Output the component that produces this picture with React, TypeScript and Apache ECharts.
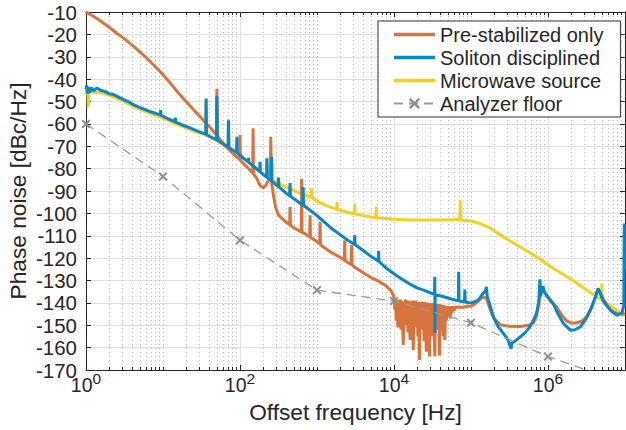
import React, { useEffect, useRef } from "react";
import * as echarts from "echarts";

// [log10(frequency / Hz), phase noise dBc/Hz]
const preStabilized: [number, number][] = [
  [0.0, -10], [0.1, -12], [0.2, -14.3], [0.3, -16.8], [0.4, -19.5], [0.5, -22], [0.6, -24.8],
  [0.7, -27.8], [0.8, -31], [0.9, -34.5], [1.0, -38], [1.1, -42], [1.2, -46.2], [1.3, -50],
  [1.4, -53.8], [1.5, -57.5], [1.6, -61.2], [1.695, -65], [1.7, -44.3], [1.705, -65.4],
  [1.8, -69.5], [1.85, -71.3], [1.853, -68.8], [1.857, -71.5], [1.9, -73], [1.995, -76],
  [2.0, -65], [2.005, -76.3], [2.1, -79.6], [2.165, -82], [2.17, -62], [2.175, -82.4],
  [2.22, -84.5], [2.26, -87.5], [2.3, -88.6], [2.34, -87.2], [2.38, -84.5], [2.395, -83.8],
  [2.4, -65.8], [2.405, -84.5], [2.43, -91], [2.46, -97], [2.5, -100.8], [2.55, -102.5],
  [2.6, -104], [2.645, -105], [2.65, -97], [2.655, -105.3], [2.7, -106.5], [2.795, -108.3],
  [2.8, -84.5], [2.805, -108.5], [2.85, -109.2], [2.905, -110.5], [2.91, -100.8], [2.915, -110.8],
  [2.95, -111.5], [3.035, -113.5], [3.04, -103.8], [3.045, -114], [3.1, -115.5], [3.2, -117.8],
  [3.3, -119.6], [3.355, -120.8], [3.36, -112], [3.365, -121], [3.4, -122], [3.445, -122.8],
  [3.45, -114], [3.455, -123], [3.5, -124.3], [3.6, -126.5], [3.7, -128.7], [3.8, -130.3],
  [3.9, -132.5], [3.96, -134.5], [3.99, -136.5],
  [4.0, -137.5], [4.01, -143], [4.02, -139], [4.03, -148], [4.04, -138.5], [4.05, -151],
  [4.06, -139], [4.07, -149], [4.08, -138.5], [4.09, -152], [4.1, -139], [4.11, -147],
  [4.12, -158.8], [4.13, -139.5], [4.14, -150], [4.15, -138.5], [4.16, -148], [4.17, -139],
  [4.18, -153], [4.19, -139], [4.2, -150], [4.21, -156.6], [4.22, -139.5], [4.23, -149],
  [4.24, -139], [4.25, -161], [4.26, -139.5], [4.27, -151], [4.28, -139], [4.29, -148],
  [4.3, -139.5], [4.31, -155], [4.32, -139.5], [4.33, -165.5], [4.34, -140], [4.35, -152],
  [4.36, -139.5], [4.37, -150], [4.38, -140], [4.39, -157], [4.4, -139.5], [4.41, -149],
  [4.42, -161.8], [4.43, -140], [4.44, -151], [4.45, -140], [4.46, -164], [4.47, -140.5],
  [4.48, -150], [4.49, -140], [4.5, -155], [4.51, -140.5], [4.52, -149], [4.53, -164],
  [4.54, -140.5], [4.55, -152], [4.56, -140.5], [4.57, -150], [4.58, -141], [4.59, -163.5],
  [4.6, -140.5], [4.61, -151], [4.62, -141], [4.63, -149], [4.64, -155], [4.65, -141],
  [4.66, -156.6], [4.67, -141.5], [4.68, -148], [4.69, -141.5], [4.7, -146], [4.71, -141.5],
  [4.73, -147], [4.74, -141.5], [4.75, -144.7], [4.76, -141.5], [4.78, -143.5], [4.8, -141.8],
  [4.85, -142], [4.9, -142], [4.95, -141.5], [5.0, -141.5],
  [5.05, -140.5], [5.1, -139], [5.16, -137.3], [5.2, -138], [5.25, -143], [5.3, -147],
  [5.38, -149.8], [5.5, -150.5], [5.64, -150.6], [5.75, -150], [5.81, -149], [5.85, -146],
  [5.88, -140], [5.92, -132.8], [5.95, -135], [6.0, -137.5], [6.05, -140], [6.11, -141.7],
  [6.18, -145.5], [6.24, -148], [6.3, -149], [6.37, -149], [6.45, -148], [6.5, -146.2],
  [6.56, -142.5], [6.62, -137], [6.65, -133.5], [6.68, -135.5], [6.72, -138.5], [6.81, -143.2],
  [6.9, -145], [7.0, -145],
];

const solitonDisciplined: [number, number][] = [
  [0.0, -44.5], [0.01, -42.8], [0.02, -46.5], [0.035, -43.5], [0.05, -46], [0.07, -43.8],
  [0.1, -45.2], [0.14, -44], [0.19, -45], [0.25, -45.6], [0.3, -46.5], [0.35, -46.8],
  [0.41, -47.8], [0.5, -49.4], [0.56, -50.2], [0.62, -51.5], [0.72, -53], [0.84, -54.6],
  [0.965, -56], [0.97, -53.8], [0.975, -56.2], [1.06, -57.6], [1.155, -59], [1.16, -57.2],
  [1.165, -59.2], [1.25, -60.5], [1.35, -61.8], [1.45, -63.2], [1.555, -64.6], [1.56, -48.7],
  [1.565, -64.8], [1.65, -66.3], [1.695, -67.1], [1.7, -47.5], [1.705, -67.3], [1.8, -69.3],
  [1.845, -70.3], [1.85, -58.4], [1.855, -70.5], [1.9, -71.6], [1.955, -72.8], [1.96, -66],
  [1.965, -73], [2.0, -74], [2.05, -75.5], [2.105, -77], [2.11, -75.2], [2.115, -77.2],
  [2.2, -79.6], [2.255, -81.3], [2.26, -77], [2.265, -81.5], [2.3, -82.6], [2.345, -83.8],
  [2.35, -75.5], [2.355, -84], [2.405, -85.4], [2.41, -74.8], [2.415, -85.6], [2.495, -88],
  [2.5, -84], [2.505, -88.2], [2.6, -91], [2.645, -92.2], [2.65, -86.5], [2.655, -92.4],
  [2.7, -93.5], [2.815, -96.3], [2.82, -88.2], [2.825, -96.5], [2.9, -98.3], [3.0, -101],
  [3.1, -104], [3.2, -107], [3.3, -109.5], [3.4, -112], [3.485, -113.8], [3.49, -109.7],
  [3.495, -114], [3.6, -116.6], [3.7, -119.2], [3.795, -121.3], [3.8, -116.8], [3.805, -121.5],
  [3.9, -124.5], [4.0, -127], [4.1, -129.3], [4.2, -131.5], [4.3, -133.3], [4.4, -134.5],
  [4.525, -136.2], [4.53, -128.3], [4.532, -153.5], [4.535, -136.4], [4.6, -136.8],
  [4.7, -137.8], [4.8, -138.8], [4.835, -139], [4.84, -126.1], [4.845, -139.2], [4.915, -139.6],
  [4.92, -134], [4.925, -139.7], [5.0, -140], [5.05, -139.5], [5.1, -138.5], [5.15, -136],
  [5.19, -134.5], [5.2, -132.8], [5.21, -137], [5.25, -141.5], [5.29, -146.2], [5.35, -150.5],
  [5.42, -153.6], [5.48, -156.5], [5.52, -160.5], [5.53, -158], [5.56, -157.4], [5.64, -155.2],
  [5.7, -153.4], [5.75, -151.4], [5.8, -148.5], [5.85, -144.8], [5.88, -140], [5.895, -129.5],
  [5.905, -137], [5.92, -134], [5.935, -132.5], [5.95, -135], [6.0, -137.5], [6.07, -140.4],
  [6.13, -145], [6.2, -149.2], [6.29, -152.2], [6.35, -152], [6.42, -150.7], [6.5, -146.8],
  [6.56, -142.5], [6.62, -137], [6.65, -133.5], [6.68, -136], [6.72, -139.3], [6.76, -141.2],
  [6.82, -143.6], [6.89, -145.4], [6.96, -144.6], [6.985, -141], [6.99, -104.5], [6.995, -125],
  [7.0, -118],
];

const microwaveSource: [number, number][] = [
  [0.0, -47], [0.01, -44.5], [0.025, -45.5], [0.03, -52.5], [0.035, -46.5], [0.06, -45.5],
  [0.1, -46], [0.19, -46], [0.3, -47.2], [0.41, -48.6], [0.5, -50.2], [0.62, -52.3],
  [0.72, -53.8], [0.84, -55.3], [0.95, -56.8], [1.06, -58.3], [1.2, -60.4], [1.3, -61.8],
  [1.4, -63.2], [1.555, -65], [1.56, -49.5], [1.565, -65.2], [1.695, -67.4], [1.7, -48.5],
  [1.705, -67.6], [1.845, -70.6], [1.85, -57.8], [1.855, -70.8], [1.955, -73], [1.96, -65.3],
  [1.965, -73.2], [2.1, -77], [2.2, -79.8], [2.3, -82.5], [2.345, -83.5], [2.35, -75],
  [2.355, -83.7], [2.405, -84.8], [2.41, -74.3], [2.415, -85], [2.5, -86.5], [2.6, -88.3],
  [2.7, -89.8], [2.8, -91.3], [2.925, -92.8], [2.93, -88.8], [2.935, -93], [3.0, -94.5],
  [3.1, -96.2], [3.2, -97.5], [3.255, -98.2], [3.26, -94.9], [3.265, -98.3], [3.4, -99.5],
  [3.485, -100.2], [3.49, -95.6], [3.495, -100.3], [3.6, -101], [3.7, -101.6], [3.765, -101.9],
  [3.77, -97], [3.775, -102], [3.9, -102.3], [4.0, -102.6], [4.2, -103], [4.4, -103],
  [4.6, -103], [4.8, -102.9], [4.855, -102.9], [4.86, -94], [4.865, -103], [5.0, -103.4],
  [5.12, -104.6], [5.25, -106.7], [5.42, -110.5], [5.64, -115], [5.85, -119.4], [6.07, -124.6],
  [6.29, -129.2], [6.5, -134.2], [6.63, -137.3], [6.695, -138.5], [6.7, -131.3], [6.705, -138.8],
  [6.85, -142.4], [7.0, -145.6],
];

const analyzerFloor: [number, number][] = [
  [0, -60], [1, -83.5], [2, -112], [3, -134.3], [4, -139.2], [5, -148.9], [6, -164], [7, -176],
];

const seriesNames = ["Pre-stabilized only", "Soliton disciplined", "Microwave source", "Analyzer floor"];
const seriesColors = ["#D9733D", "#0A85C8", "#F6D01F", "#9A9A9A"];
const xMajorTicks = [1, 1e2, 1e4, 1e6];
const yTicksMin = -170;
const yTicksMax = -10;

const FONT = "'Liberation Sans', Arial, Helvetica, sans-serif";
const TEXT = "#262626";

function toHz(pts: [number, number][]) {
  return pts.map(([e, v]) => [Math.pow(10, e), v]);
}

function minorTicks() {
  const out: number[] = [];
  for (let d = 0; d < 7; d++) {
    for (let m = 1; m <= 9; m++) {
      if (m === 1 && d % 2 === 0) continue;
      out.push(m * Math.pow(10, d));
    }
  }
  return out;
}

const X_MARK = "path://M1.6,0 L5,3.4 L8.4,0 L10,1.6 L6.6,5 L10,8.4 L8.4,10 L5,6.6 L1.6,10 L0,8.4 L3.4,5 L0,1.6 Z";
const LINE_ICON = "path://M0,0 H41 V3.6 H0 Z";

export default function App() {
  const ref = useRef<HTMLDivElement>(null);
  useEffect(() => {
    if (!ref.current) return;
    const chart = echarts.init(ref.current, undefined, { renderer: "svg" });
    const minors = minorTicks();
    const baseX = { type: "log" as const, logBase: 10, min: 1, max: 1e7, gridIndex: 0 };
    const axisLineStyle = { color: TEXT, width: 1 };
    const option: any = {
      animation: false,
      backgroundColor: "#ffffff",
      grid: { left: 86, right: 1, top: 12, bottom: 60, containLabel: false, outerBoundsMode: "none" },
      xAxis: [
        {
          ...baseX,
          position: "bottom",
          axisLine: { show: true, lineStyle: axisLineStyle },
          axisTick: { show: true, inside: true, length: 5, customValues: xMajorTicks, lineStyle: axisLineStyle },
          minorTick: { show: false },
          axisLabel: {
            customValues: xMajorTicks,
            margin: 9,
            hideOverlap: false,
            formatter: (v: number) => `{b|10}{s|${Math.round(Math.log10(v))}}`,
            rich: {
              b: { fontSize: 19.5, fontFamily: FONT, color: TEXT, lineHeight: 16, verticalAlign: "bottom" },
              s: { fontSize: 15.5, fontFamily: FONT, color: TEXT, lineHeight: 12, padding: [0, 0, 9, 0], verticalAlign: "bottom" },
            },
          },
          splitLine: { show: true, lineStyle: { color: "#e0e0e0", width: 1 } },
          name: "Offset frequency [Hz]",
          nameLocation: "middle",
          nameGap: 30.5,
          nameMoveOverlap: false,
          nameTextStyle: { fontSize: 22.7, fontFamily: FONT, color: TEXT, verticalAlign: "top" },
        },
        {
          ...baseX,
          position: "bottom",
          axisLine: { show: false },
          axisTick: { show: true, inside: true, length: 3, customValues: minors, lineStyle: axisLineStyle },
          axisLabel: { show: false },
          splitLine: { show: true, lineStyle: { color: "#bdbdbd", width: 1, type: [1, 3] } },
        },
        {
          ...baseX,
          position: "top",
          axisLine: { show: true, lineStyle: axisLineStyle },
          axisTick: { show: true, inside: true, length: 5, customValues: xMajorTicks, lineStyle: axisLineStyle },
          axisLabel: { show: false },
          splitLine: { show: false },
        },
        {
          ...baseX,
          position: "top",
          axisLine: { show: false },
          axisTick: { show: true, inside: true, length: 3, customValues: minors, lineStyle: axisLineStyle },
          axisLabel: { show: false },
          splitLine: { show: false },
        },
      ],
      yAxis: [
        {
          type: "value",
          min: yTicksMin,
          max: yTicksMax,
          interval: 10,
          position: "left",
          axisLine: { show: true, lineStyle: axisLineStyle },
          axisTick: { show: true, inside: true, length: 5, lineStyle: axisLineStyle },
          axisLabel: { fontSize: 20.5, fontFamily: FONT, color: TEXT, margin: 9 },
          splitLine: { show: true, lineStyle: { color: "#e0e0e0", width: 1 } },
          name: "Phase noise [dBc/Hz]",
          nameLocation: "middle",
          nameGap: 57,
          nameMoveOverlap: false,
          nameRotate: 90,
          nameTextStyle: { fontSize: 22.7, fontFamily: FONT, color: TEXT },
        },
        {
          type: "value",
          min: yTicksMin,
          max: yTicksMax,
          interval: 10,
          position: "right",
          axisLine: { show: true, lineStyle: axisLineStyle },
          axisTick: { show: true, inside: true, length: 5, lineStyle: axisLineStyle },
          axisLabel: { show: false },
          splitLine: { show: false },
        },
      ],
      legend: {
        orient: "vertical",
        left: 378,
        top: 21,
        backgroundColor: "#ffffff",
        borderColor: "#333333",
        borderWidth: 1,
        borderRadius: 0,
        padding: [3.5, 17, 3.5, 15],
        itemWidth: 41,
        itemHeight: 14,
        itemGap: 3,
        data: [
          { name: seriesNames[0], icon: LINE_ICON },
          { name: seriesNames[1], icon: LINE_ICON },
          { name: seriesNames[2], icon: LINE_ICON },
          { name: seriesNames[3] },
        ],
        textStyle: { fontSize: 20, fontFamily: FONT, color: TEXT, lineHeight: 20 },
      },
      series: [
        {
          name: seriesNames[2],
          type: "line",
          data: toHz(microwaveSource),
          symbol: "none",
          color: seriesColors[2],
          lineStyle: { width: 3, color: seriesColors[2] },
          z: 2,
        },
        {
          name: seriesNames[0],
          type: "line",
          data: toHz(preStabilized),
          symbol: "none",
          color: seriesColors[0],
          lineStyle: { width: 3, color: seriesColors[0] },
          z: 3,
        },
        {
          name: seriesNames[1],
          type: "line",
          data: toHz(solitonDisciplined),
          symbol: "none",
          color: seriesColors[1],
          lineStyle: { width: 3, color: seriesColors[1] },
          z: 4,
        },
        {
          name: seriesNames[3],
          type: "line",
          data: toHz(analyzerFloor),
          symbol: X_MARK,
          symbolSize: 9,
          showSymbol: true,
          color: "#8f8f8f",
          itemStyle: { color: "#8f8f8f" },
          lineStyle: { width: 1.3, color: seriesColors[3], type: [9, 6] },
          z: 5,
        },
      ],
    };
    chart.setOption(option);
    return () => chart.dispose();
  }, []);
  return (
    <div
      ref={ref}
      style={{ position: "absolute", left: 0, top: 0, width: 626, height: 430, background: "#fff" }}
    />
  );
}
